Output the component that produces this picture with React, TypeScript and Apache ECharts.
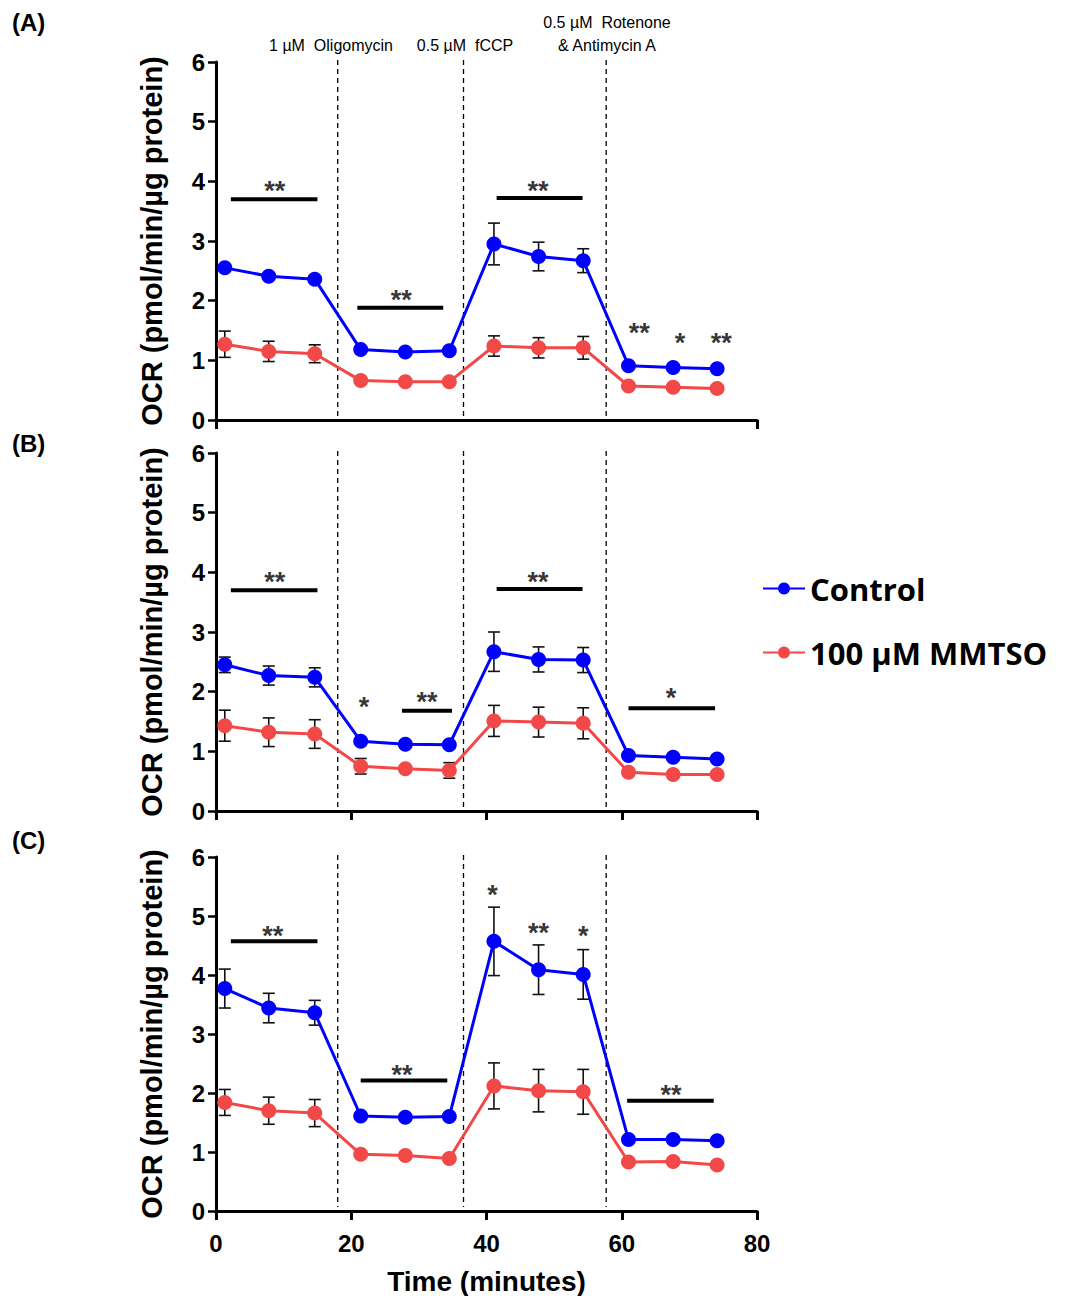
import React, { useEffect, useRef } from "react";
import * as echarts from "echarts";

// Measurement times (minutes) shared by all three panels
const TIME = [1.3, 7.8, 14.6, 21.4, 28.0, 34.5, 41.1, 47.7, 54.3, 61.0, 67.6, 74.1];
// Injection times (dashed lines)
const INJECTIONS = [18.0, 36.6, 57.7];

// Panel A
const A_CONTROL = [2.55, 2.41, 2.36, 1.18, 1.14, 1.16, 2.95, 2.74, 2.67, 0.91, 0.88, 0.86];
const A_CONTROL_SEM = [0.05, 0.05, 0.05, 0.04, 0.04, 0.04, 0.35, 0.24, 0.2, 0.04, 0.04, 0.04];
const A_MMTSO = [1.27, 1.15, 1.11, 0.66, 0.64, 0.64, 1.24, 1.21, 1.21, 0.57, 0.55, 0.53];
const A_MMTSO_SEM = [0.22, 0.17, 0.15, 0.03, 0.03, 0.03, 0.17, 0.17, 0.19, 0.03, 0.03, 0.03];
const A_BARS = [
  [2.2, 15.0, 3.7],
  [20.9, 33.6, 1.88],
  [41.5, 54.2, 3.72],
];
const A_STARS: [number, number, string][] = [
  [8.7, 3.89, "**"],
  [27.4, 2.06, "**"],
  [47.6, 3.89, "**"],
  [62.6, 1.51, "**"],
  [68.6, 1.34, "*"],
  [74.7, 1.34, "**"],
];

// Panel B
const B_CONTROL = [2.45, 2.27, 2.24, 1.17, 1.12, 1.11, 2.67, 2.54, 2.53, 0.93, 0.9, 0.87];
const B_CONTROL_SEM = [0.13, 0.16, 0.16, 0.04, 0.04, 0.04, 0.33, 0.21, 0.21, 0.04, 0.04, 0.04];
const B_MMTSO = [1.43, 1.32, 1.29, 0.75, 0.71, 0.68, 1.51, 1.49, 1.47, 0.65, 0.61, 0.61];
const B_MMTSO_SEM = [0.26, 0.24, 0.24, 0.13, 0.04, 0.13, 0.26, 0.25, 0.26, 0.04, 0.04, 0.04];
const B_BARS = [
  [2.2, 15.0, 3.7],
  [27.5, 34.9, 1.68],
  [41.5, 54.2, 3.72],
  [61.0, 73.8, 1.72],
];
const B_STARS: [number, number, string][] = [
  [8.7, 3.89, "**"],
  [21.9, 1.79, "*"],
  [31.2, 1.88, "**"],
  [47.6, 3.89, "**"],
  [67.3, 1.94, "*"],
];

// Panel C
const C_CONTROL = [3.77, 3.44, 3.36, 1.61, 1.59, 1.6, 4.57, 4.09, 4.01, 1.21, 1.21, 1.19];
const C_CONTROL_SEM = [0.33, 0.25, 0.21, 0.04, 0.04, 0.04, 0.58, 0.42, 0.42, 0.04, 0.04, 0.04];
const C_MMTSO = [1.84, 1.7, 1.66, 0.96, 0.94, 0.89, 2.12, 2.04, 2.02, 0.83, 0.84, 0.78];
const C_MMTSO_SEM = [0.22, 0.23, 0.23, 0.04, 0.04, 0.04, 0.39, 0.36, 0.38, 0.04, 0.04, 0.04];
const C_BARS = [
  [2.2, 15.0, 4.57],
  [21.4, 34.2, 2.21],
  [60.8, 73.6, 1.87],
];
const C_STARS: [number, number, string][] = [
  [8.4, 4.72, "**"],
  [27.5, 2.36, "**"],
  [40.9, 5.41, "*"],
  [47.7, 4.77, "**"],
  [54.3, 4.72, "*"],
  [67.3, 2.02, "**"],
];

const Y_TICKS = { min: 0, max: 6, interval: 1 };
const SERIES_NAMES = ["Control", "100 µM MMTSO"];
const PANEL_LABELS = ["(A)", "(B)", "(C)"];
const Y_TITLE = "OCR (pmol/min/µg protein)";
const X_TITLE = "Time (minutes)";

const BLUE = "#0000ff";
const RED = "#f24848";
const ARIAL = "'Liberation Sans', Arimo, Arial, Helvetica, sans-serif";

const GRID_TOPS = [62, 453, 857];
const GRID_HEIGHTS = [358, 358, 356];

export default function App() {
  const ref = useRef<HTMLDivElement>(null);

  useEffect(() => {
    if (!ref.current) return;
    const chart = echarts.init(ref.current, null, { renderer: "svg" });

    const panels = [
      { ctrl: A_CONTROL, ctrlSem: A_CONTROL_SEM, mm: A_MMTSO, mmSem: A_MMTSO_SEM, bars: A_BARS, stars: A_STARS },
      { ctrl: B_CONTROL, ctrlSem: B_CONTROL_SEM, mm: B_MMTSO, mmSem: B_MMTSO_SEM, bars: B_BARS, stars: B_STARS },
      { ctrl: C_CONTROL, ctrlSem: C_CONTROL_SEM, mm: C_MMTSO, mmSem: C_MMTSO_SEM, bars: C_BARS, stars: C_STARS },
    ];

    const errorBars = (params: any, api: any) => {
      const x = api.value(0);
      const y = api.value(1);
      const e = api.value(2);
      const top = api.coord([x, y + e]);
      const bot = api.coord([x, y - e]);
      const w = 6;
      const style = { stroke: "#111", lineWidth: 1.6 };
      return {
        type: "group",
        children: [
          { type: "line", shape: { x1: top[0], y1: top[1], x2: bot[0], y2: bot[1] }, style },
          { type: "line", shape: { x1: top[0] - w, y1: top[1], x2: top[0] + w, y2: top[1] }, style },
          { type: "line", shape: { x1: bot[0] - w, y1: bot[1], x2: bot[0] + w, y2: bot[1] }, style },
        ],
      };
    };

    const injectionLine = (params: any, api: any) => {
      const x = api.value(0);
      const p0 = api.coord([x, 6]);
      const p1 = api.coord([x, 0]);
      return {
        type: "line",
        shape: { x1: p0[0], y1: p0[1] - 2, x2: p1[0], y2: p1[1] - 4 },
        style: { stroke: "#000", lineWidth: 1.3, lineDash: [5, 4] },
      };
    };

    const sigBar = (params: any, api: any) => {
      const a = api.coord([api.value(0), api.value(2)]);
      const b = api.coord([api.value(1), api.value(2)]);
      return {
        type: "line",
        shape: { x1: a[0], y1: a[1], x2: b[0], y2: b[1] },
        style: { stroke: "#000", lineWidth: 4 },
      };
    };

    const grid: any[] = [];
    const xAxis: any[] = [];
    const yAxis: any[] = [];
    const series: any[] = [];

    panels.forEach((p, i) => {
      grid.push({ left: 216, right: 313, top: GRID_TOPS[i], height: GRID_HEIGHTS[i] });
      xAxis.push({
        type: "value",
        gridIndex: i,
        min: 0,
        max: 80,
        interval: i === 0 ? 80 : 20,
        splitLine: { show: false },
        axisLine: { lineStyle: { color: "#000", width: 3 } },
        axisTick: { length: 9, lineStyle: { color: "#000", width: 3 } },
        axisLabel: {
          show: i === 2,
          color: "#000",
          fontSize: 24,
          fontWeight: "bold",
          fontFamily: ARIAL,
          margin: 20,
        },
        name: i === 2 ? X_TITLE : "",
        nameLocation: "middle",
        nameGap: 56,
        nameTextStyle: { color: "#000", fontSize: 28, fontWeight: "bold", fontFamily: ARIAL },
      });
      yAxis.push({
        type: "value",
        gridIndex: i,
        ...Y_TICKS,
        splitLine: { show: false },
        axisLine: { show: true, lineStyle: { color: "#000", width: 3 } },
        axisTick: { show: true, length: 8, lineStyle: { color: "#000", width: 2.5 } },
        axisLabel: {
          color: "#000",
          fontSize: 24,
          fontWeight: "bold",
          fontFamily: ARIAL,
          margin: 11,
        },
        name: Y_TITLE,
        nameLocation: "middle",
        nameGap: 50,
        nameTextStyle: { color: "#000", fontSize: 29, fontWeight: "bold", fontFamily: ARIAL },
      });

      series.push({
        type: "custom",
        name: "injections" + i,
        xAxisIndex: i,
        yAxisIndex: i,
        renderItem: injectionLine,
        encode: { x: 0, y: 0 },
        data: INJECTIONS.map((x) => [x, 0]),
        z: 1,
        silent: true,
      });

      [
        { name: SERIES_NAMES[0], vals: p.ctrl, sem: p.ctrlSem, color: BLUE },
        { name: SERIES_NAMES[1], vals: p.mm, sem: p.mmSem, color: RED },
      ].forEach((s) => {
        series.push({
          type: "custom",
          name: s.name + " SEM " + i,
          xAxisIndex: i,
          yAxisIndex: i,
          renderItem: errorBars,
          encode: { x: 0, y: 1 },
          data: TIME.map((t, k) => [t, s.vals[k], s.sem[k]]),
          z: 2,
          silent: true,
        });
        series.push({
          type: "line",
          name: s.name,
          xAxisIndex: i,
          yAxisIndex: i,
          data: TIME.map((t, k) => [t, s.vals[k]]),
          symbol: "circle",
          symbolSize: 15,
          itemStyle: { color: s.color },
          lineStyle: { color: s.color, width: 3 },
          z: 3,
        });
      });

      series.push({
        type: "custom",
        name: "sig bars " + i,
        xAxisIndex: i,
        yAxisIndex: i,
        renderItem: sigBar,
        encode: { x: [0, 1], y: 2 },
        data: p.bars,
        z: 4,
        silent: true,
      });
      series.push({
        type: "scatter",
        name: "sig stars " + i,
        xAxisIndex: i,
        yAxisIndex: i,
        symbolSize: 0,
        data: p.stars.map(([x, y, t]) => ({ value: [x, y], name: t })),
        label: {
          show: true,
          position: "inside",
          formatter: "{b}",
          color: "#000",
          fontSize: 27,
          fontWeight: "bold",
          fontFamily: ARIAL,
          offset: [0, 3],
        },
        z: 5,
        silent: true,
      });
    });

    const graphic: any[] = [];
    PANEL_LABELS.forEach((t, i) => {
      graphic.push({
        type: "text",
        left: 12,
        top: [10, 431, 828][i],
        style: { text: t, fontSize: 24, fontWeight: "bold", fontFamily: ARIAL, fill: "#000" },
      });
    });
    const note = (text: string, cx: number, cy: number) => ({
      type: "text",
      x: cx,
      y: cy,
      style: {
        text,
        fontSize: 16,
        fontFamily: ARIAL,
        fill: "#000",
        align: "center",
        verticalAlign: "middle",
      },
    });
    graphic.push(note("1 µM  Oligomycin", 331, 45));
    graphic.push(note("0.5 µM  fCCP", 465, 45));
    graphic.push(note("0.5 µM  Rotenone", 607, 22));
    graphic.push(note("& Antimycin A", 607, 45));

    chart.setOption({
      animation: false,
      backgroundColor: "#fff",
      grid,
      xAxis,
      yAxis,
      series,
      graphic,
      legend: {
        data: SERIES_NAMES,
        orient: "vertical",
        left: 757,
        top: 568,
        itemWidth: 42,
        itemHeight: 15,
        itemGap: 33,
        textStyle: { color: "#000", fontSize: 31, fontWeight: "bold", fontFamily: "'Open Sans', Lato, sans-serif" },
        selectedMode: false,
      },
    });

    return () => chart.dispose();
  }, []);

  return (
    <div
      ref={ref}
      style={{ position: "absolute", left: 0, top: 0, width: 1070, height: 1296, background: "#fff" }}
    />
  );
}
